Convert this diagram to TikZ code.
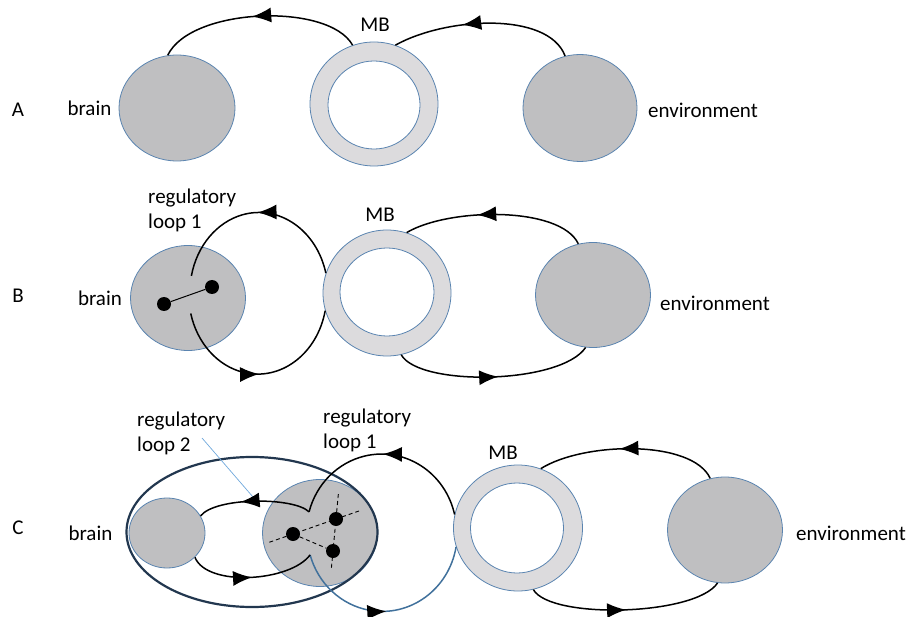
\documentclass[tikz,border=0pt]{standalone}
\usepackage{fontspec}
\setmainfont{Carlito}
\usetikzlibrary{shapes.geometric,arrows.meta,decorations.markings,calc,positioning}
\definecolor{rim}{HTML}{5A84B0}
\definecolor{blobgray}{HTML}{BFBFC1}
\definecolor{ringgray}{HTML}{DCDBDD}
\definecolor{loopblue}{HTML}{41719C}
\definecolor{loopdark}{HTML}{22374F}
\definecolor{ptrblue}{HTML}{6FA8DC}

\begin{document}
\begin{tikzpicture}[x=1pt,y=-1pt,
  lbl/.style={font=\fontsize{21}{25}\selectfont,inner sep=0pt},
  blob/.style 2 args={ellipse,draw=rim,line width=.8pt,fill=blobgray,inner sep=0pt,minimum width=#1pt,minimum height=#2pt},
  ringout/.style 2 args={blob={#1}{#2},fill=ringgray},
  ringin/.style 2 args={blob={#1}{#2},fill=white},
  dot/.style={circle,fill=black,inner sep=0pt,minimum size=14pt},
  flow/.style={line width=1.5pt,postaction={decorate},decoration={markings,mark=at position #1 with {\arrow{Latex[length=19pt,width=15pt,color=black]}}}},
  backflow/.style={line width=1.5pt,postaction={decorate},decoration={markings,mark=at position #1 with {\arrowreversed{Latex[length=19pt,width=15pt,color=black]}}}},
  dsh/.style={line width=.9pt,dash pattern=on 4pt off 3pt}]
\useasboundingbox (0,0) rectangle (912,617);

% A
\node[lbl] (rowA) at (18,110) {A};
\node[blob={116}{106}] (brA) at (177,108) {};
\node[ringout={128}{124}] (mbA) at (374,104) {};\node[ringin={92}{88}] (mbAi) at (374,105) {};
\node[blob={114}{107}] (envA) at (580,108) {};
\node[lbl,left=7pt of brA] (brAlbl) {brain};
\node[lbl,anchor=west] (envAlbl) at (648,110) {environment};
\node[lbl] (mbAlbl) at (375,25) {MB};
\draw[flow=.53] (mbA.110) .. controls +(-24,-43) and +(23,-48) .. (brA.100);
\draw[flow=.62] (envA.106) .. controls +(-17,-45) and +(50,-28) .. (mbA.70);

% B
\node[lbl] (rowB) at (18,296) {B};
\node[blob={115}{105}] (brB) at (188,298) {};
\node[ringout={128}{126}] (mbB) at (387,293) {};\node[ringin={94}{88}] (mbBi) at (387,292) {};
\node[blob={115}{105}] (envB) at (593,295) {};
\node[lbl,left=8pt of brB] (brBlbl) {brain};
\node[lbl,anchor=west] (envBlbl) at (660,303) {environment};
\node[lbl] (mbBlbl) at (380,215) {MB};
\node[lbl,align=left,anchor=west] (loopBlbl) at (148,210) {regulatory\\loop 1};
\node[dot] (dB1) at (164,304) {};\node[dot] (dB2) at (212,287) {};
\draw[line width=1pt] (dB1) -- (dB2);
\draw[flow=.5] (mbB.162) arc[start angle=-14,end angle=-168,x radius=69,y radius=80];
\draw[backflow=.5] (mbB.196) arc[start angle=12,end angle=166,x radius=69,y radius=80];
\draw[flow=.6] (envB.106) .. controls +(-18,-38) and +(42,-25) .. (mbB.72);
\draw[flow=.52] (mbB.283) .. controls +(18,32) and +(-25,37) .. (envB.262);

% C
\node[lbl] (rowC) at (18,528) {C};
\node[blob={76}{70}] (brC) at (167,533) {};
\node[blob={115}{107}] (core) at (320,533) {};
\node[ellipse,draw=loopdark,line width=2.2pt,inner sep=0pt,minimum width=251pt,minimum height=150pt] (lp2) at (252,532) {};
\node[ringout={129}{126}] (mbC) at (518,528) {};\node[ringin={93}{90}] (mbCi) at (517,528) {};
\node[blob={115}{106}] (envC) at (725,530) {};
\node[lbl,left=16pt of brC] (brClbl) {brain};
\node[lbl,anchor=west] (envClbl) at (796,533) {environment};
\node[lbl] (mbClbl) at (503,453) {MB};
\node[lbl,align=left,anchor=west] (loop2lbl) at (137,433) {regulatory\\loop 2};
\node[lbl,align=left,anchor=west] (loop1lbl) at (323,430) {regulatory\\loop 1};
\coordinate (ptrA) at (202,438);\coordinate (ptrB) at (253,497);
\draw[ptrblue,line width=.7pt] (ptrA) -- (ptrB);
\node[dot] (dC1) at (293,534) {};\node[dot] (dC2) at (336,519) {};\node[dot] (dC3) at (333,551) {};
\draw[dsh] ($(dC1)!-.55!(dC2)$) -- ($(dC1)!1.55!(dC2)$);
\draw[dsh] ($(dC2)!-.78!(dC3)$) -- ($(dC2)!1.6!(dC3)$);
\draw[dsh] (dC1) -- (dC3);
\draw[flow=.5] (mbC.168) arc[start angle=-13,end angle=-165,x radius=75,y radius=78] coordinate (cusp);
\draw[backflow=.5,draw=loopblue] (mbC.197) arc[start angle=10,end angle=164,x radius=75,y radius=78] coordinate (cuspb);
\draw[flow=.62] (cusp) .. controls +(-15,-15) and +(15,-19) .. (brC.27);
\draw[flow=.5] (brC.319) .. controls +(12,30) and +(-20,27) .. (cuspb);
\draw[flow=.55] (envC.106) .. controls +(-18,-39) and +(43,-27) .. (mbC.69);
\draw[flow=.5] (mbC.284) .. controls +(17,30) and +(-22,33) .. (envC.262);
\end{tikzpicture}
\end{document}
